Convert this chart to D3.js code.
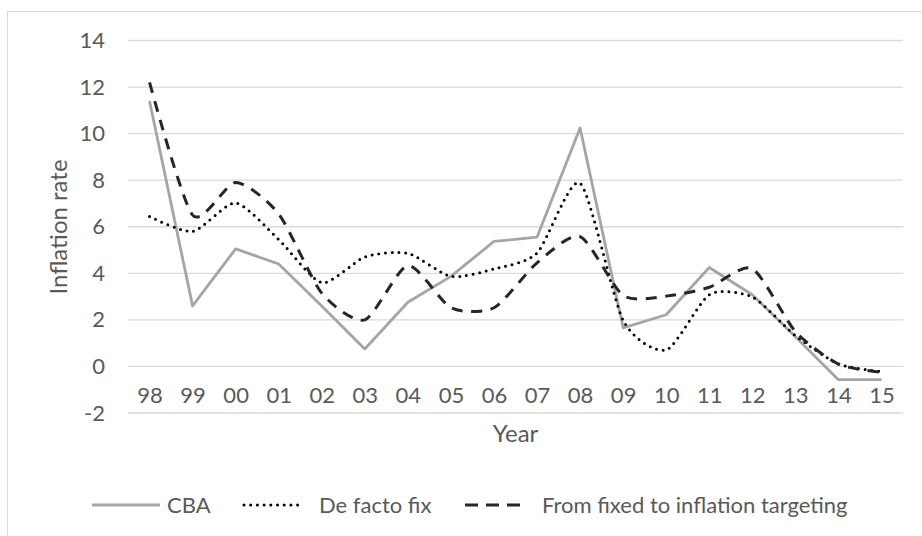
<!DOCTYPE html>
<html>
<head>
<meta charset="utf-8">
<script src="https://cdn.jsdelivr.net/npm/d3@7/dist/d3.min.js"></script>
<style>
  html, body { margin: 0; padding: 0; background: #fff; }
  svg { display: block; }
  text { font-family: Lato, "Open Sans", sans-serif; fill: #595959; }
</style>
</head>
<body>
<svg id="chart" width="922" height="536"></svg>
<script>
// Inflation rates by exchange-rate regime, 1998-2015
const years = ["98","99","00","01","02","03","04","05","06","07","08","09","10","11","12","13","14","15"];
const cba      = [11.4, 2.6, 5.05, 4.4, 2.6, 0.75, 2.76, 3.87, 5.37, 5.55, 10.24, 1.66, 2.22, 4.25, 3.08, 1.28, -0.57, -0.57];
const deFacto  = [6.44, 5.8, 7.02, 5.45, 3.6, 4.7, 4.86, 3.87, 4.19, 4.87, 7.87, 1.98, 0.71, 3.08, 2.98, 1.33, 0.11, -0.22];
const fixedToIT = [12.2, 6.5, 7.9, 6.55, 3.15, 2.0, 4.33, 2.52, 2.52, 4.45, 5.58, 3.05, 3.02, 3.4, 4.2, 1.5, 0.1, -0.25];
const yTicks = [-2, 0, 2, 4, 6, 8, 10, 12, 14];
const seriesNames = ["CBA", "De facto fix", "From fixed to inflation targeting"];

const svg = d3.select("#chart");

// chart area frame (only top and left edges fall inside the view)
svg.append("rect")
  .attr("x", 7.5).attr("y", 11.5)
  .attr("width", 940).attr("height", 560)
  .attr("fill", "none").attr("stroke", "#d9d9d9").attr("stroke-width", 1);

const x = d3.scalePoint().domain(years).range([128, 903]).padding(0.5);
const y = d3.scaleLinear().domain([-2, 14]).range([413, 40.5]);

// horizontal gridlines
svg.append("g").selectAll("line").data(yTicks).join("line")
  .attr("x1", 128).attr("x2", 903)
  .attr("y1", d => y(d)).attr("y2", d => y(d))
  .attr("stroke", "#d9d9d9").attr("stroke-width", 1.3);

// y axis labels (plain hyphen for negatives)
const yAxis = d3.axisLeft(y).tickValues(yTicks).tickFormat(d => String(d)).tickSize(0).tickPadding(0);
const gy = svg.append("g").attr("transform", "translate(105,0)").call(yAxis);
gy.select(".domain").remove();
gy.selectAll("text").attr("font-size", 22).attr("fill", "#595959")
  .style("font-family", "Lato, 'Open Sans', sans-serif");

// x axis labels sit between the 0 and -2 gridlines
const xAxis = d3.axisBottom(x).tickSize(0).tickPadding(0);
const gx = svg.append("g").attr("transform", "translate(0,387)").call(xAxis);
gx.select(".domain").remove();
gx.selectAll("text").attr("font-size", 22).attr("fill", "#595959")
  .style("font-family", "Lato, 'Open Sans', sans-serif");

// axis titles
svg.append("text")
  .attr("x", 515.5).attr("y", 442)
  .attr("text-anchor", "middle").attr("font-size", 24)
  .text("Year");
svg.append("text")
  .attr("transform", "translate(67,227) rotate(-90)")
  .attr("text-anchor", "middle").attr("font-size", 24)
  .text("Inflation rate");

// series lines
const styles = [
  { data: cba, stroke: "#a5a5a5", width: 2.8, dash: null, cap: "butt", curve: d3.curveLinear },
  { data: deFacto, stroke: "#000000", width: 3, dash: "0 6.7", cap: "round", curve: d3.curveCardinal.tension(0.3) },
  { data: fixedToIT, stroke: "#262626", width: 3, dash: "11 8.5", cap: "butt", curve: d3.curveCardinal.tension(0.3) }
];

styles.forEach(s => {
  const line = d3.line()
    .x((d, i) => x(years[i]))
    .y(d => y(d))
    .curve(s.curve);
  svg.append("path")
    .datum(s.data)
    .attr("d", line)
    .attr("fill", "none")
    .attr("stroke", s.stroke)
    .attr("stroke-width", s.width)
    .attr("stroke-linejoin", "round")
    .attr("stroke-linecap", s.cap)
    .attr("stroke-dasharray", s.dash);
});

// legend
const legendItems = [
  { x1: 92, x2: 160, tx: 167 },
  { x1: 244, x2: 302, tx: 319 },
  { x1: 465, x2: 526, tx: 542 }
];
const legendY = 505;
legendItems.forEach((it, i) => {
  const s = styles[i];
  svg.append("line")
    .attr("x1", it.x1).attr("x2", it.x2)
    .attr("y1", legendY).attr("y2", legendY)
    .attr("stroke", s.stroke)
    .attr("stroke-width", s.width)
    .attr("stroke-linecap", s.cap)
    .attr("stroke-dasharray", i === 2 ? "13 8" : s.dash);
  svg.append("text")
    .attr("x", it.tx).attr("y", legendY)
    .attr("dy", "0.35em")
    .attr("font-size", 22)
    .text(seriesNames[i]);
});
</script>
</body>
</html>
